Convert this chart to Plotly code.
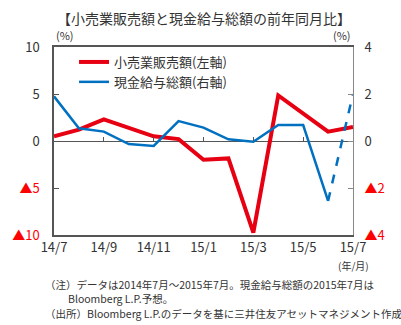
import plotly.graph_objects as go

months = list(range(13))
tick_idx = [0, 2, 4, 6, 8, 10, 12]
tick_labels = ["14/7", "14/9", "14/11", "15/1", "15/3", "15/5", "15/7"]

retail = [0.5, 1.2, 2.3, 1.4, 0.5, 0.2, -2.0, -1.85, -9.75, 4.85, 2.9, 1.0, 1.5]
wages = [1.9, 0.54, 0.4, -0.13, -0.21, 0.85, 0.57, 0.07, -0.03, 0.68, 0.68, -2.55, 2.0]

left_ticks = [10, 5, 0, -5, -10]
left_text = ["10", "5", "0", '<span style="color:#FF0000">▲5</span>', '<span style="color:#FF0000">▲10</span>']
right_ticks = [4, 2, 0, -2, -4]
right_text = ["4", "2", "0", '<span style="color:#FF0000">▲2</span>', '<span style="color:#FF0000">▲4</span>']

RED = "#E60012"
BLUE = "#0070C0"
FONT = "Noto Sans CJK JP"

fig = go.Figure()
fig.add_trace(go.Scatter(x=months, y=retail, mode="lines", name="小売業販売額(左軸)",
                         line=dict(color=RED, width=4), yaxis="y"))
fig.add_trace(go.Scatter(x=months[:12], y=wages[:12], mode="lines", name="現金給与総額(右軸)",
                         line=dict(color=BLUE, width=2.5), yaxis="y2"))
fig.add_trace(go.Scatter(x=months[11:], y=wages[11:], mode="lines", showlegend=False,
                         line=dict(color=BLUE, width=2.5, dash="dash"), yaxis="y2"))

fig.update_layout(
    width=401, height=325,
    margin=dict(l=46, r=48, t=47, b=90),
    paper_bgcolor="white", plot_bgcolor="white",
    font=dict(family=FONT, color="#333333", size=13),
    showlegend=True,
    legend=dict(x=0.067, y=1.0, xanchor="left", yanchor="top", bgcolor="rgba(0,0,0,0)",
                font=dict(size=13, color="#333333"), tracegroupgap=0, itemwidth=30),
    xaxis=dict(range=[0, 12], tickmode="array", tickvals=tick_idx, ticktext=tick_labels,
               showgrid=False, zeroline=False, showline=True, linecolor="#555555", linewidth=1.5,
               mirror=True, ticks="", tickfont=dict(size=13, color="#333333")),
    xaxis2=dict(range=[0, 12], overlaying="x", anchor="free", position=0.5,
                tickmode="array", tickvals=tick_idx[1:-1], ticks="inside", ticklen=4,
                tickcolor="#555555", showticklabels=False, showline=False, showgrid=False,
                zeroline=False),
    yaxis=dict(range=[-10, 10], tickmode="array", tickvals=left_ticks, ticktext=left_text,
               showgrid=False, zeroline=True, zerolinecolor="#555555", zerolinewidth=1.2,
               showline=True, linecolor="#555555", linewidth=1.5, ticks="inside", ticklen=5,
               tickcolor="#555555", ticklabelstandoff=10, tickfont=dict(size=13, color="#333333")),
    yaxis2=dict(range=[-4, 4], overlaying="y", side="right", tickmode="array",
                tickvals=right_ticks, ticktext=right_text, showgrid=False, zeroline=False,
                showline=True, linecolor="#888888", linewidth=1, ticks="inside", ticklen=5,
                tickcolor="#888888", ticklabelstandoff=8, tickfont=dict(size=13, color="#333333")),
)
# invisible trace so the zero-line tick axis is drawn
fig.add_trace(go.Scatter(x=[0], y=[0], xaxis="x2", yaxis="y", mode="markers",
                         marker=dict(opacity=0), showlegend=False, hoverinfo="skip"))

fig.add_annotation(text="【小売業販売額と現金給与総額の前年同月比】", xref="paper", yref="paper",
                   x=0.5, y=1.0, yshift=29, xanchor="center", yanchor="middle", showarrow=False,
                   font=dict(size=14, color="#333333"))
fig.add_annotation(text="(%)", xref="paper", yref="paper", x=0, y=1, yshift=12,
                   xanchor="left", yanchor="middle", showarrow=False, font=dict(size=11))
fig.add_annotation(text="(%)", xref="paper", yref="paper", x=1, y=1, yshift=12,
                   xanchor="right", yanchor="middle", showarrow=False, font=dict(size=11))
fig.add_annotation(text="(年/月)", xref="paper", yref="paper", x=1, y=0, yshift=-30,
                   xanchor="center", yanchor="middle", showarrow=False, font=dict(size=10))
notes = [
    ("（注）データは2014年7月～2015年7月。現金給与総額の2015年7月は", 35, 284),
    ("Bloomberg L.P.予想。", 58, 298),
    ("（出所）Bloomberg L.P.のデータを基に三井住友アセットマネジメント作成", 35, 313),
]
for t, px, py in notes:
    fig.add_annotation(text=t, xref="paper", yref="paper",
                       x=(px - 46) / 307, y=(235 - py) / 188,
                       xanchor="left", yanchor="middle", showarrow=False,
                       font=dict(size=10.5, color="#333333"))

fig.write_html("out.html")
